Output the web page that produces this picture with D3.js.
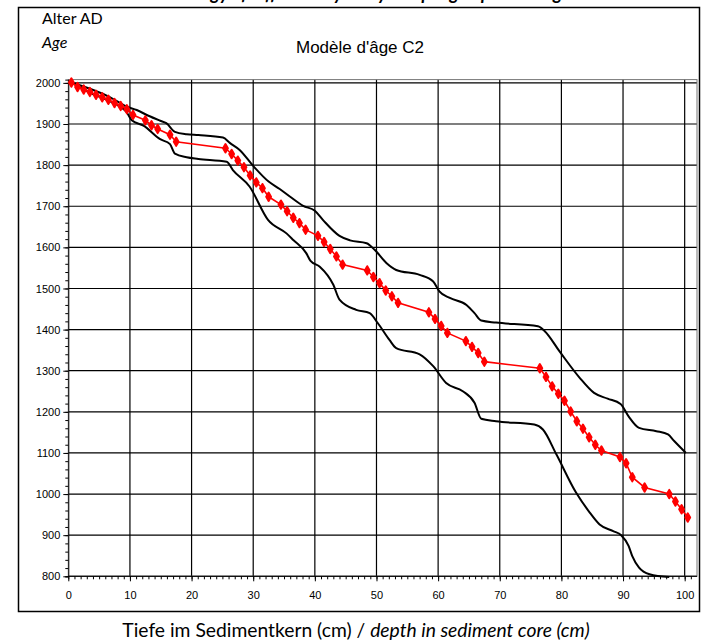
<!DOCTYPE html>
<meta charset="utf-8">
<style>
body { margin: 0; background: #fff; }
svg { display: block; }
.tick-label { font-family: "Liberation Sans", Arial, sans-serif; font-size: 11px; fill: #000; }
.calib { font-family: Lato, "Open Sans", sans-serif; fill: #000; }
</style>
<svg width="711" height="643"></svg>
<script src="https://d3js.org/d3.v7.min.js"></script>
<script>

// red age model: depth (cm) and age (AD)
var depth = [0.5,1.5,2.5,3.5,4.5,5.5,6.5,7.5,8.5,9.5,10.5,12.5,13.5,14.5,16.5,17.5,
  25.5,26.5,27.5,28.5,29.5,30.5,31.5,32.5,34.5,35.5,36.5,37.5,38.5,40.5,41.5,42.5,43.5,44.5,
  48.5,49.5,50.5,51.5,52.5,53.5,58.5,59.5,60.5,61.5,64.5,65.5,66.5,67.5,
  76.5,77.5,78.5,79.5,80.5,81.5,82.5,83.5,84.5,85.5,86.5,89.5,90.5,91.5,93.5,97.5,98.5,99.5,100.5];
var age = [2001,1990,1984,1978,1971,1965,1959,1951,1944,1936,1922,1909,1897,1888,1874,1857,
  1841,1827,1811,1795,1775,1758,1744,1723,1704,1688,1672,1659,1643,1628,1613,1596,1578,1558,
  1544,1528,1513,1495,1481,1465,1442,1426,1409,1392,1372,1358,1343,1322,
  1306,1285,1262,1244,1227,1201,1177,1159,1138,1120,1106,1090,1075,1041,1016,1000,982,963,943];

// upper confidence bound
var upperDepth = [0.5,6.8,9.5,11.1,13,14.9,15.9,17.3,19.2,21.1,25.1,26.2,27.8,30,32.5,34.3,36,38.1,40,41.3,
  44,45.7,48.4,49.7,51.6,53.2,57,59.2,60.2,61.9,64.6,65.9,67,69.4,76.2,77.3,79.7,82.9,85.3,87.5,
  89.6,90.9,92.6,95.4,97.3,98.3,100.2];
var upperAge = [2001,1965,1942,1934,1920,1908,1902,1881,1875,1873,1867,1854,1837,1798,1760,1742,1723,1701,1689,1667,
  1628,1617,1610,1594,1562,1545,1533,1517,1493,1477,1460,1440,1422,1417,1408,1396,1347,1284,1246,1232,
  1219,1189,1161,1153,1145,1129,1100];

// lower confidence bound
var lowerDepth = [0.5,4,6.8,9.5,10.3,12.2,14.9,16.5,17.3,19.2,21.1,25.7,26.7,29.4,32.4,35.4,36.5,38.6,39.3,40.8,
  43,44,46.7,48.9,50.2,52.1,53.2,57,59.2,61.3,64,65.9,67,69.4,75.6,77,79.2,82.4,84.6,86.2,88.4,
  89.7,90.9,91.5,92.6,94.3,97.5];
var lowerAge = [2001,1973,1955,1928,1909,1896,1863,1851,1828,1819,1815,1808,1788,1748,1667,1634,1618,1586,1567,1553,
  1509,1473,1448,1440,1416,1375,1355,1340,1311,1270,1250,1222,1183,1177,1169,1157,1096,1003,955,926,910,
  900,874,849,821,805,798];

var xTicks = [0,10,20,30,40,50,60,70,80,90,100];
var yTicks = [800,900,1000,1100,1200,1300,1400,1500,1600,1700,1800,1900,2000];

var svg = d3.select("svg");

var x = d3.scaleLinear().domain([0, 102]).range([68.3, 697]);
var y = d3.scaleLinear().domain([800, 2008]).range([576.3, 79.6]);

// outer frame
svg.append("rect")
    .attr("x", 18.5).attr("y", 7.5)
    .attr("width", 681).attr("height", 604)
    .attr("fill", "none").attr("stroke", "#000").attr("stroke-width", 1.5);

// caption of the page above, only its lower edge shows
svg.append("text")
    .attr("x", 356).attr("y", -0.5)
    .attr("text-anchor", "middle")
    .attr("class", "calib")
    .style("font-style", "italic").style("font-weight", "bold")
    .style("font-size", "18px")
    .text("Chronology of different layers by sampling depth and age");

var g = svg.append("g");

// grid
g.selectAll(".hgrid").data(yTicks).enter().append("line")
    .attr("x1", x(0)).attr("x2", x(102))
    .attr("y1", function(d) { return y(d); }).attr("y2", function(d) { return y(d); })
    .attr("stroke", "#000").attr("stroke-width", 1.2);
g.selectAll(".vgrid").data(xTicks.slice(1)).enter().append("line")
    .attr("x1", function(d) { return x(d); }).attr("x2", function(d) { return x(d); })
    .attr("y1", y(2008)).attr("y2", y(800))
    .attr("stroke", "#000").attr("stroke-width", 1.2);

// plot border
g.append("rect")
    .attr("x", x(0)).attr("y", y(2008))
    .attr("width", x(102) - x(0)).attr("height", y(800) - y(2008))
    .attr("fill", "none").attr("stroke", "#777").attr("stroke-width", 1);

// axes
var yAxis = d3.axisLeft(y).tickValues(d3.range(800, 2001, 20)).tickSize(3).tickFormat("");
g.append("g").attr("transform", "translate(" + x(0) + ",0)").call(yAxis)
    .call(function(s) { s.select(".domain").attr("stroke", "#000"); });
var yMajor = d3.axisLeft(y).tickValues(yTicks).tickSize(5).tickPadding(3).tickFormat(d3.format("d"));
g.append("g").attr("transform", "translate(" + x(0) + ",0)").call(yMajor)
    .call(function(s) {
      s.select(".domain").remove();
      s.selectAll("text").attr("class", "tick-label").attr("font-family", null).attr("font-size", null);
    });

var xAxis = d3.axisBottom(x).tickValues(d3.range(0, 102, 1)).tickSize(3).tickFormat("");
g.append("g").attr("transform", "translate(0," + y(800) + ")").call(xAxis)
    .call(function(s) { s.select(".domain").attr("d", "M" + x(0) + ",0H" + x(102)); });
var xMajor = d3.axisBottom(x).tickValues(xTicks).tickSize(5).tickPadding(10).tickFormat(d3.format("d"));
g.append("g").attr("transform", "translate(0," + y(800) + ")").call(xMajor)
    .call(function(s) {
      s.select(".domain").remove();
      s.selectAll("text").attr("class", "tick-label").attr("font-family", null).attr("font-size", null);
    });

// bounds
var bound = d3.line().curve(d3.curveMonotoneX)
    .x(function(d) { return x(d[0]); })
    .y(function(d) { return y(d[1]); });

g.append("path")
    .datum(d3.zip(upperDepth, upperAge))
    .attr("d", bound).attr("fill", "none").attr("stroke", "#000").attr("stroke-width", 2);
g.append("path")
    .datum(d3.zip(lowerDepth, lowerAge))
    .attr("d", bound).attr("fill", "none").attr("stroke", "#000").attr("stroke-width", 2);

// age model
var model = d3.zip(depth, age);
g.append("path")
    .datum(model)
    .attr("d", d3.line().x(function(d) { return x(d[0]); }).y(function(d) { return y(d[1]); }))
    .attr("fill", "none").attr("stroke", "#ff0000").attr("stroke-width", 1.6);
g.selectAll(".pt").data(model).enter().append("path")
    .attr("transform", function(d) { return "translate(" + x(d[0]) + "," + y(d[1]) + ")"; })
    .attr("d", d3.symbol().type(d3.symbolDiamond).size(20))
    .attr("fill", "#ff0000").attr("stroke", "#ff0000").attr("stroke-width", 2)
    .attr("stroke-linejoin", "round");

// labels
svg.append("text").attr("class", "calib").attr("x", 42).attr("y", 24)
    .style("font-size", "16px").text("Alter AD");
svg.append("text").attr("class", "calib").attr("x", 42).attr("y", 48)
    .style("font-size", "16px").style("font-style", "italic").text("Age");
svg.append("text").attr("x", 360).attr("y", 53).attr("text-anchor", "middle")
    .style("font-family", "'Liberation Sans', Arial, sans-serif").style("font-size", "17px")
    .text("Modèle d'âge C2");

var xt = svg.append("text").attr("class", "calib").attr("x", 356).attr("y", 637)
    .attr("text-anchor", "middle").style("font-size", "19.3px");
xt.append("tspan").text("Tiefe im Sedimentkern (cm) / ");
xt.append("tspan").style("font-style", "italic").text("depth in sediment core (cm)");

</script>
